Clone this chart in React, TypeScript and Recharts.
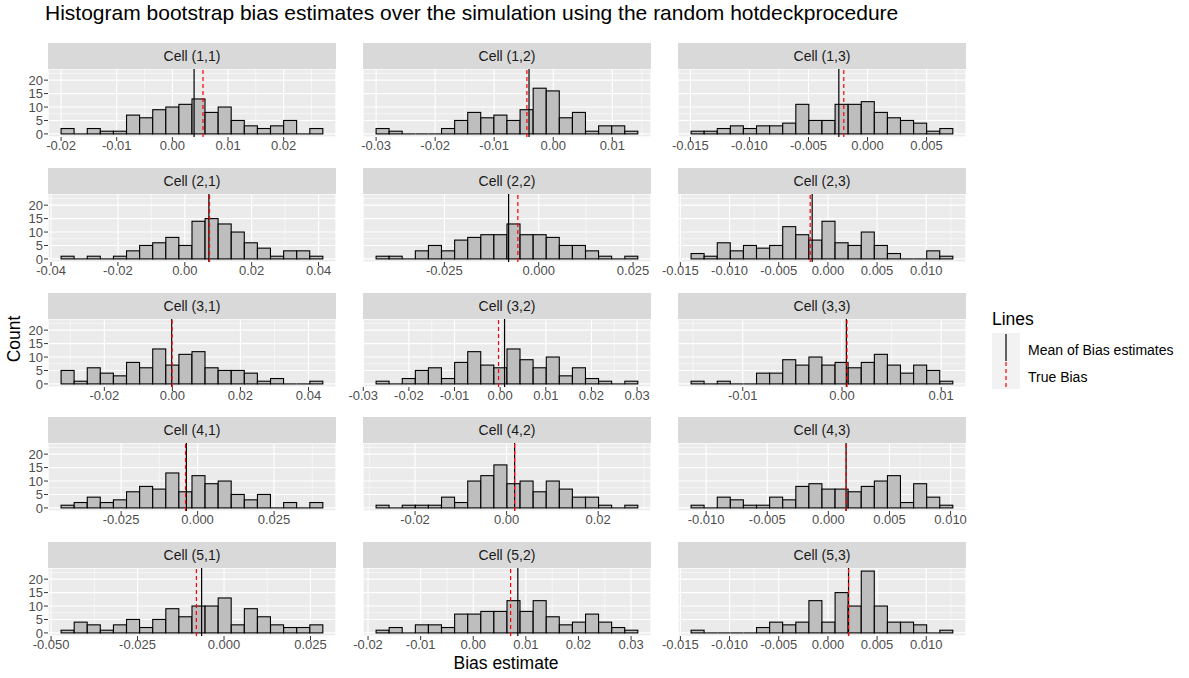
import React from "react";
import { ComposedChart, Bar, XAxis, YAxis, CartesianGrid, ReferenceLine } from "recharts";

// facet labels, row by row
const CELLS = ["(1,1)", "(1,2)", "(1,3)", "(2,1)", "(2,2)", "(2,3)", "(3,1)", "(3,2)", "(3,3)", "(4,1)", "(4,2)", "(4,3)", "(5,1)", "(5,2)", "(5,3)"];

// histogram counts (20 bins each)
const COUNTS_11 = [2, 0, 2, 1, 1, 7, 6, 9, 10, 11, 13, 8, 10, 5, 3, 2, 3, 5, 0, 2];
const COUNTS_12 = [2, 1, 0, 0, 0, 2, 5, 8, 6, 7, 5, 9, 17, 16, 6, 8, 1, 3, 3, 1];
const COUNTS_13 = [1, 1, 2, 3, 2, 3, 3, 4, 11, 5, 5, 11, 11, 12, 8, 6, 5, 4, 1, 2];
const COUNTS_21 = [1, 0, 1, 0, 1, 3, 5, 6, 8, 5, 14, 15, 13, 10, 6, 4, 1, 3, 3, 1];
const COUNTS_22 = [1, 1, 0, 3, 5, 3, 7, 8, 9, 9, 13, 9, 9, 8, 5, 5, 3, 1, 0, 1];
const COUNTS_23 = [2, 1, 6, 3, 5, 4, 5, 12, 9, 7, 14, 6, 5, 10, 5, 2, 0, 0, 3, 1];
const COUNTS_31 = [5, 1, 6, 4, 3, 8, 6, 13, 7, 11, 12, 6, 5, 5, 4, 1, 2, 0, 0, 1];
const COUNTS_32 = [1, 0, 2, 5, 6, 2, 8, 12, 7, 6, 13, 9, 6, 10, 3, 6, 2, 1, 0, 1];
const COUNTS_33 = [1, 0, 1, 0, 0, 4, 4, 9, 7, 10, 7, 8, 6, 8, 11, 7, 4, 7, 5, 1];
const COUNTS_41 = [1, 2, 4, 2, 3, 6, 8, 7, 13, 6, 12, 9, 10, 5, 3, 5, 0, 2, 0, 2];
const COUNTS_42 = [1, 0, 1, 1, 1, 4, 2, 10, 12, 16, 9, 10, 6, 10, 7, 4, 4, 1, 0, 1];
const COUNTS_43 = [1, 0, 4, 3, 1, 1, 4, 3, 8, 9, 7, 7, 6, 8, 10, 12, 2, 9, 4, 1];
const COUNTS_51 = [1, 4, 3, 1, 3, 5, 2, 5, 9, 6, 10, 10, 13, 3, 9, 6, 3, 2, 2, 3];
const COUNTS_52 = [1, 2, 0, 3, 3, 2, 7, 7, 8, 8, 12, 8, 12, 6, 3, 4, 7, 4, 2, 1];
const COUNTS_53 = [1, 0, 0, 0, 0, 2, 4, 3, 4, 12, 4, 15, 10, 23, 10, 4, 4, 3, 0, 1];
const COUNTS = [COUNTS_11, COUNTS_12, COUNTS_13, COUNTS_21, COUNTS_22, COUNTS_23, COUNTS_31, COUNTS_32, COUNTS_33, COUNTS_41, COUNTS_42, COUNTS_43, COUNTS_51, COUNTS_52, COUNTS_53];

// outer edges of the binned range per cell
const BIN_LO = [-0.02, -0.03, -0.01494, -0.037, -0.04309, -0.01391, -0.03271, -0.02719, -0.01521, -0.04463, -0.02851, -0.01123, -0.04711, -0.01847, -0.01391];
const BIN_HI = [0.02705, 0.01434, 0.00723, 0.0413, 0.02628, 0.01271, 0.04424, 0.03018, 0.01118, 0.04097, 0.02868, 0.01019, 0.02859, 0.0313, 0.01271];

// vertical reference lines
const MEAN_BIAS = [0.0039, -0.0041, -0.00243, 0.0072, -0.00798, -0.0016, -0.0002, 0.00096, 0.00044, -0.00367, 0.00175, 0.00145, -0.00648, 0.00847, 0.0021];
const TRUE_BIAS = [0.0055, -0.00446, -0.00201, 0.0074, -0.00553, -0.0018, -0.0001, -0.00036, 0.0005, -0.00393, 0.00175, 0.00145, -0.00799, 0.0071, 0.0021];

const X_TICKS = [
  [-0.02, -0.01, 0, 0.01, 0.02],
  [-0.03, -0.02, -0.01, 0, 0.01],
  [-0.015, -0.01, -0.005, 0, 0.005],
  [-0.04, -0.02, 0, 0.02, 0.04],
  [-0.025, 0, 0.025],
  [-0.015, -0.01, -0.005, 0, 0.005, 0.01],
  [-0.02, 0, 0.02, 0.04],
  [-0.03, -0.02, -0.01, 0, 0.01, 0.02, 0.03],
  [-0.01, 0, 0.01],
  [-0.025, 0, 0.025],
  [-0.02, 0, 0.02],
  [-0.01, -0.005, 0, 0.005, 0.01],
  [-0.05, -0.025, 0, 0.025],
  [-0.02, -0.01, 0, 0.01, 0.02, 0.03],
  [-0.015, -0.01, -0.005, 0, 0.005, 0.01],
];
const X_DECIMALS = [2, 2, 3, 2, 3, 3, 2, 2, 2, 3, 2, 3, 3, 2, 3];

const Y_TICKS = [0, 5, 10, 15, 20];
const Y_MINOR = [2.5, 7.5, 12.5, 17.5, 22.5];
const Y_DOMAIN: [number, number] = [-1.15, 24.15];

// layout
const PANEL_LEFT = [48, 363, 678];
const PANEL_W = 288;
const PLOT_H = 68;
const STRIP_H = 26;
const FIRST_PLOT_TOP = 69;
const ROW_PITCH = 124.75;
const AXIS_W = 30;
const RIGHT_PAD = 24;
const XAXIS_H = 24;
const FONT = "'Liberation Sans', Arial, sans-serif";

function minorTicks(major: number[], d0: number, d1: number) {
  const step = major[1] - major[0];
  const out: number[] = [];
  for (let v = major[0] - step / 2; v <= d1; v += step) if (v >= d0) out.push(v);
  return out;
}

const HistBar = (props: any) => {
  const { x, y, width, height } = props;
  if (!(height > 0.01)) {
    return <line x1={x} x2={x + width} y1={y} y2={y} stroke="#000" strokeWidth={1.1} />;
  }
  return <rect x={x} y={y} width={width} height={height} fill="#BEBEBE" stroke="#000" strokeWidth={1.1} />;
};

function Panel({ i }: { i: number }) {
  const row = Math.floor(i / 3);
  const col = i % 3;
  const counts = COUNTS[i];
  const lo = BIN_LO[i];
  const hi = BIN_HI[i];
  const w = (hi - lo) / counts.length;
  const bins = counts.map((c, j) => ({ x: lo + (j + 0.5) * w, count: c }));
  const pad = (hi - lo) * 0.05;
  const domain: [number, number] = [lo - pad, hi + pad];
  const minorX = minorTicks(X_TICKS[i], domain[0], domain[1]);
  const plotTop = FIRST_PLOT_TOP + ROW_PITCH * row;
  const dec = X_DECIMALS[i];

  return (
    <>
      <div style={{
        position: "absolute", left: PANEL_LEFT[col], top: plotTop - STRIP_H, width: PANEL_W, height: STRIP_H,
        background: "#D9D9D9", color: "#1A1A1A", fontSize: 14, lineHeight: `${STRIP_H}px`, textAlign: "center",
      }}>
        Cell {CELLS[i]}
      </div>
      <div style={{ position: "absolute", left: PANEL_LEFT[col] - AXIS_W, top: plotTop }}>
        <ComposedChart width={AXIS_W + PANEL_W + RIGHT_PAD} height={PLOT_H + XAXIS_H} data={bins}
          margin={{ top: 0, right: RIGHT_PAD, bottom: 0, left: col === 0 ? 0 : AXIS_W }}
          barCategoryGap={0} barGap={0}>
          <CartesianGrid xAxisId="minor" yAxisId="minor" fill="#EBEBEB" stroke="#FFFFFF" strokeWidth={0.55} />
          <CartesianGrid stroke="#FFFFFF" strokeWidth={1.1} />
          <XAxis dataKey="x" type="number" domain={domain} ticks={X_TICKS[i]} interval={0} allowDataOverflow
            tickFormatter={(v: number) => v.toFixed(dec)} height={XAXIS_H} axisLine={false}
            tickSize={4} tickMargin={0} tickLine={{ stroke: "#333333" }}
            tick={{ fill: "#4D4D4D", fontSize: 13, fontFamily: FONT }} />
          <XAxis xAxisId="minor" dataKey="x" type="number" domain={domain} ticks={minorX} allowDataOverflow hide />
          <YAxis type="number" domain={Y_DOMAIN} ticks={Y_TICKS} interval={0} allowDataOverflow hide={col !== 0}
            width={AXIS_W} axisLine={false} tickSize={4} tickMargin={1} tickLine={{ stroke: "#333333" }}
            tick={{ fill: "#4D4D4D", fontSize: 13, fontFamily: FONT }} />
          <YAxis yAxisId="minor" type="number" domain={Y_DOMAIN} ticks={Y_MINOR} allowDataOverflow hide />
          <Bar dataKey="count" shape={HistBar} isAnimationActive={false} />
          <ReferenceLine x={MEAN_BIAS[i]} stroke="#000000" strokeWidth={1.2} />
          <ReferenceLine x={TRUE_BIAS[i]} stroke="#FF0000" strokeWidth={1.2} strokeDasharray="4 3" />
        </ComposedChart>
      </div>
    </>
  );
}

export default function App() {
  return (
    <div style={{ position: "absolute", left: 0, top: 0, width: 1189, height: 678, background: "#fff", fontFamily: FONT, overflow: "hidden" }}>
      <div style={{ position: "absolute", left: 45, top: 1, fontSize: 21, lineHeight: "24px", color: "#000", whiteSpace: "nowrap" }}>
        Histogram bootstrap bias estimates over the simulation using the random hotdeckprocedure
      </div>
      {CELLS.map((_, i) => <Panel key={i} i={i} />)}
      <div style={{
        position: "absolute", left: 4, top: 339, transform: "translateY(-50%) rotate(180deg)",
        writingMode: "vertical-rl", fontSize: 17.5, lineHeight: "20px", color: "#000", whiteSpace: "nowrap",
      }}>
        Count
      </div>
      <div style={{ position: "absolute", left: 506, top: 663, transform: "translate(-50%, -50%)", fontSize: 17.5, color: "#000", whiteSpace: "nowrap" }}>
        Bias estimate
      </div>
      <svg style={{ position: "absolute", left: 985, top: 300 }} width={204} height={100}>
        <text x={7} y={25} fontSize={17.5} fill="#000">Lines</text>
        <rect x={7} y={33} width={28} height={56} fill="#F2F2F2" />
        <line x1={21} x2={21} y1={34} y2={61} stroke="#000" strokeWidth={1.2} />
        <line x1={21} x2={21} y1={62} y2={89} stroke="#FF0000" strokeWidth={1.2} strokeDasharray="4 3" />
        <text x={43} y={55} fontSize={14} fill="#000">Mean of Bias estimates</text>
        <text x={43} y={82} fontSize={14} fill="#000">True Bias</text>
      </svg>
    </div>
  );
}
